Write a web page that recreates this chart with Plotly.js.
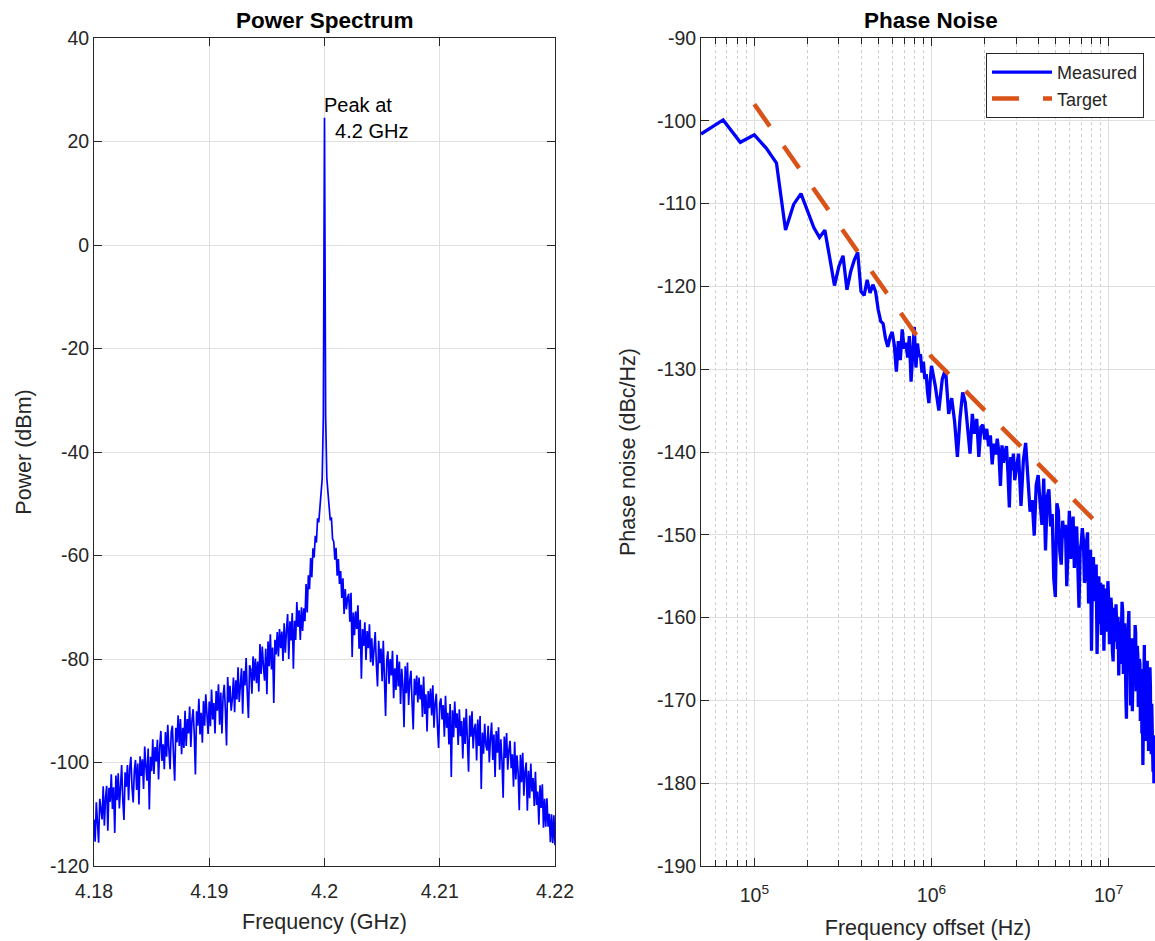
<!DOCTYPE html>
<html>
<head>
<meta charset="utf-8">
<script src="https://cdn.plot.ly/plotly-3.0.1.min.js"></script>
<style>
html,body{margin:0;padding:0;background:#ffffff;overflow:hidden;}
#chart{width:1155px;height:941px;}
</style>
</head>
<body>
<div id="chart"></div>
<script>
// ---------------- Power spectrum (left) ----------------
const specStartGHz = 4.18;
const specStepGHz = 0.0001;
const specPower = [
  // 4.1800 - 4.1819
  -111, -115.3, -107.7, -112, -115.5, -107, -109.5, -111, -104.6, -112.2, -106.8, -104.5, -113.2, -104.9, -107.6, -102.3, -109, -104.8, -113.6, -102.5,
  // 4.1820 - 4.1839
  -107.3, -102.1, -108.9, -103.7, -100.5, -107.3, -111.1, -101.9, -104.7, -100.5, -107.3, -101.1, -98.9, -104.8, -107.7, -101.6, -99.5, -105.3, -100.2, -108.1,
  // 4.1840 - 4.1859
  -98.8, -102.6, -99.4, -105.1, -96.9, -100.7, -103.5, -97.3, -109.1, -98.9, -101.7, -95.5, -102.2, -97, -99.8, -95.6, -103.3, -97.1, -93.9, -99.7,
  // 4.1860 - 4.1879
  -96.5, -101.3, -94.1, -98.9, -92.7, -97.5, -101.3, -94.1, -92.9, -98.7, -103.5, -93.3, -96.1, -90.9, -96.8, -91.6, -98.4, -93.3, -97.2, -90,
  // 4.1880 - 4.1899
  -96.8, -91.6, -94.4, -89.2, -97, -91.9, -89.7, -94.5, -102.3, -90.1, -92.9, -87.7, -94.6, -90.4, -96.2, -88.1, -92.9, -86.8, -91.6, -94.5,
  // 4.1900 - 4.1919
  -88.2, -93, -85.9, -91.7, -88.5, -94.4, -86.2, -90, -84.9, -92.7, -86.5, -94.4, -87.2, -85, -89.9, -96.7, -83.5, -88.4, -85.2, -90,
  // 4.1920 - 4.1939
  -87.8, -83.6, -90.3, -84.1, -87.8, -81.6, -88.3, -84.1, -81.8, -90.6, -82.3, -85.1, -79.8, -86.6, -91.4, -81.2, -82, -86.7, -79.5, -84.2,
  // 4.1940 - 4.1959
  -79.9, -84.7, -80.5, -86.3, -77.1, -82.9, -77.6, -81.4, -84.2, -78, -86.8, -76.6, -81.4, -75.2, -82, -77.8, -88.5, -76.3, -79.1, -74.8,
  // 4.1960 - 4.1979
  -79.5, -74.2, -77.9, -74.7, -80.4, -73.1, -78.8, -74.5, -71.3, -80, -72.7, -76.4, -71.1, -81.9, -72.6, -76.3, -69, -73.8, -70.6, -76.3,
  // 4.1980 - 4.1999
  -70, -74.6, -70.2, -72.7, -65.5, -71, -63.8, -66.5, -60.5, -64.2, -58.6, -60.4, -56.2, -57.5, -52.8, -53.6, -50.4, -47.5, -45.2, -33,
  // 4.2000 (carrier)
  24.6,
  // 4.2001 - 4.2020
  -33, -45, -47.8, -50.9, -53.2, -52.6, -56.8, -57.3, -60.8, -58.5, -63.9, -60.7, -65.5, -63, -68.2, -64.4, -71.3, -66.5, -70.4, -68.2,
  // 4.2021 - 4.2040
  -67.4, -72.8, -67.2, -79.6, -71, -75.4, -70.8, -74.2, -69.6, -78, -72.4, -83.8, -74.2, -77.5, -72.9, -80.2, -74.6, -77.9, -73.3, -80.6,
  // 4.2041 - 4.2060
  -76, -81.3, -77.5, -74.8, -81, -85.3, -76.5, -80.8, -78, -84.3, -76.5, -82.8, -91, -80.3, -78.5, -84.8, -80, -83.2, -78.4, -87.6,
  // 4.2061 - 4.2080
  -81.8, -86, -79.2, -85.3, -80.5, -88.7, -81.9, -85, -93.2, -81.4, -86.6, -80.7, -88.9, -84.1, -82.3, -88.4, -93.6, -83.8, -87, -83.2,
  // 4.2081 - 4.2100
  -88.4, -83.6, -87.8, -85, -91.2, -83.4, -90.6, -86.8, -94, -86.2, -89.5, -85.7, -90.9, -85.1, -93.3, -88.5, -86.7, -92.9, -97.2, -88.5,
  // 4.2101 - 4.2120
  -87.6, -91.7, -88.9, -95, -87.1, -93.3, -90.4, -96.5, -88.7, -102.8, -89.9, -95.1, -88.2, -93.3, -90.5, -96.6, -89.7, -94.9, -92, -99.2,
  // 4.2121 - 4.2140
  -91.3, -96.4, -89.6, -95.7, -101.8, -90.9, -95, -90.1, -97.3, -93.4, -92.5, -99.6, -91.7, -96.8, -91, -105.1, -94.2, -98.3, -92.5, -96.6,
  // 4.2141 - 4.2160
  -97.7, -92.9, -100, -95.2, -92.3, -99.5, -94.6, -102.8, -93.9, -98.1, -93.2, -101.4, -95.5, -99.7, -106.8, -95, -99.1, -94.3, -101.4, -97.6,
  // 4.2161 - 4.2180
  -95.8, -101.1, -98.4, -104.7, -96, -103.3, -98.6, -101.9, -109.2, -98.5, -103.8, -98.1, -106.4, -101.7, -100, -109.3, -101.6, -106.9, -100.2, -105.6,
  // 4.2181 - 4.2200
  -103, -108.4, -101.8, -108.2, -105.6, -112, -104.4, -108.8, -104.2, -112.6, -107, -112.4, -106.9, -112.4, -109.9, -115.4, -110, -115.6, -110.2, -116
];
const specFreq = specPower.map((_, i) => +(specStartGHz + i * specStepGHz).toFixed(4));

const specXTickVals = [4.18, 4.19, 4.2, 4.21, 4.22];
const specXTickText = ['4.18', '4.19', '4.2', '4.21', '4.22'];
const specYTickVals = [40, 20, 0, -20, -40, -60, -80, -100, -120];
const specYTickText = ['40', '20', '0', '-20', '-40', '-60', '-80', '-100', '-120'];
const peakFreqGHz = 4.2;
const peakPower = 24.6;

// ---------------- Phase noise (right) ----------------
// 50 kHz .. 1 MHz, step 50/3 kHz
const pnLowStepHz = 50e3 / 3;
const pnLowValues = [
  -101.6, -99.9, -102.6, -101.7, -103.3, -105.1, -113.2, -110.1, -108.8, -110.8,
  -112.9, -114.1, -113.2, -116.6, -119.9, -117.6, -116.3, -120.4, -118.2, -116.8,
  -115.9, -120.6, -121.1, -119.2, -120.8, -119.8, -120.6, -122.8, -124.2, -124.5,
  -126.3, -127.3, -126.1, -125.5, -127.1, -130.3, -126.6, -128.9, -125.2, -127.5,
  -126.8, -128.6, -126.0, -131.5, -127.4, -124.9, -129.8, -126.9, -128.5, -128.2,
  -130.4, -129.1, -131.2, -130.6, -132.8, -134.1, -131.4, -129.6
];
// 1.05 MHz .. 3 MHz, step 50 kHz
const pnMidStartHz = 1.05e6, pnMidStepHz = 50e3;
const pnMidValues = [
  -132.0, -135.0, -131.2, -130.0, -135.4, -133.5, -136.3, -140.6, -135.8, -132.8,
  -134.0, -137.5, -140.2, -135.4, -137.8, -136.0, -140.6, -137.0, -136.7, -138.5,
  -137.2, -139.3, -138.0, -141.5, -139.0, -140.3, -138.4, -140.0, -144.1, -139.2,
  -141.3, -140.0, -139.3, -142.5, -146.7, -140.6, -142.2, -140.2, -143.4, -142.3
];
// 3.1 MHz .. 18 MHz, step 100 kHz
const pnHighStartHz = 3.1e6, pnHighStepHz = 100e3;
const pnHighValues = [
  -140.2, -146.5, -141.0, -138.9, -143.6, -147.2, -145.8, -150.1, -144.0, -142.8,
  -146.1, -148.8, -143.2, -151.9, -145.4, -144.5, -149.0, -147.5, -155.3, -157.5,
  -146.2, -147.1, -152.0, -153.6, -148.3, -150.4, -148.8, -156.2, -151.5, -147.1,
  -152.9, -150.5, -147.8, -154.0, -149.6, -149.0, -155.7, -158.8, -151.9, -151.0,
  -149.2, -150.6, -155.8, -155.2, -150.9, -149.7, -158.3, -157.0, -151.8, -164.0,
  -154.4, -152.7, -156.9, -158.0, -153.6, -164.4, -157.2, -155.0, -160.8, -155.8,
  -162.1, -160.5, -156.0, -164.0, -158.2, -156.5, -161.7, -160.0, -155.6, -157.9,
  -163.2, -162.5, -157.6, -159.0, -164.1, -165.3, -158.8, -160.2, -162.9, -158.4,
  -161.5, -163.8, -159.9, -167.0, -162.2, -160.5, -165.6, -163.0, -158.1, -159.2,
  -166.8, -165.5, -160.7, -162.3, -169.4, -172.2, -164.0, -163.6, -160.8, -159.2,
  -166.2, -165.0, -170.6, -168.0, -162.5, -171.3, -166.9, -163.5, -168.1, -166.4,
  -160.9, -161.8, -168.9, -167.7, -163.4, -164.5, -170.8, -169.6, -165.0, -165.5,
  -172.5, -170.3, -166.2, -174.0, -169.1, -177.8, -171.4, -168.5, -163.3, -173.2,
  -167.4, -166.1, -174.9, -171.5, -165.2, -168.8, -172.9, -176.1, -169.3, -172.0,
  -166.0, -168.3, -175.2, -176.5, -170.4, -172.8, -178.1, -178.6, -174.2, -180.0
];
const pnFreq = [].concat(
  pnLowValues.map((_, i) => (i + 3) * pnLowStepHz),
  pnMidValues.map((_, i) => pnMidStartHz + i * pnMidStepHz),
  pnHighValues.map((_, i) => pnHighStartHz + i * pnHighStepHz)
);
const pnValues = [].concat(pnLowValues, pnMidValues, pnHighValues);

const targetFreq = [1e5, 1e6, 1e7];
const targetValues = [-98, -128.5, -150];

const pnXTickVals = [1e5, 1e6, 1e7];
const pnXTickText = ['10<sup>5</sup>', '10<sup>6</sup>', '10<sup>7</sup>'];
const pnYTickVals = [-90, -100, -110, -120, -130, -140, -150, -160, -170, -180, -190];
const pnYTickText = ['-90', '-100', '-110', '-120', '-130', '-140', '-150', '-160', '-170', '-180', '-190'];

const pnMinorTicks = [];
for (let d = 4; d <= 7; d++) {
  for (let m = 2; m <= 9; m++) pnMinorTicks.push(m * Math.pow(10, d));
}

// ---------------- styling ----------------
const W = 1155, H = 941;
const ink = '#262626';
const gridCol = '#dfdfdf';
const fam = '"Liberation Sans", Arial, Helvetica, sans-serif';
const tickFont = {family: fam, size: 19.5, color: ink};
const labFont = {family: fam, size: 21.5, color: ink};
const yDom = [(H - 866) / H, (H - 38) / H];

function baseAxis(extra) {
  return Object.assign({
    ticks: 'inside', ticklen: 8, tickwidth: 1, tickcolor: ink,
    showline: true, linecolor: ink, linewidth: 1, mirror: 'ticks',
    showgrid: true, gridcolor: gridCol, gridwidth: 1, zeroline: false,
    tickfont: tickFont, tickmode: 'array', automargin: false, fixedrange: true
  }, extra);
}

const traces = [
  {
    type: 'scatter', mode: 'lines', x: specFreq, y: specPower,
    xaxis: 'x', yaxis: 'y', showlegend: false, hoverinfo: 'skip',
    line: {color: '#0000ff', width: 1.7}
  },
  {
    type: 'scatter', mode: 'lines', x: pnFreq, y: pnValues,
    xaxis: 'x2', yaxis: 'y2', name: 'Measured',
    line: {color: '#0000ff', width: 3.3}
  },
  {
    type: 'scatter', mode: 'lines', x: targetFreq, y: targetValues,
    xaxis: 'x2', yaxis: 'y2', name: 'Target',
    line: {color: '#D95319', width: 4.5, dash: '27px,24px'}
  }
];

const layout = {
  width: W, height: H,
  margin: {l: 0, r: 0, t: 0, b: 0, pad: 0},
  paper_bgcolor: '#ffffff', plot_bgcolor: '#ffffff',
  font: {family: fam, size: 19.5, color: ink},
  showlegend: true,
  hovermode: false,
  xaxis: baseAxis({
    domain: [94 / W, 555 / W], range: [4.18, 4.22], anchor: 'y',
    tickvals: specXTickVals, ticktext: specXTickText, ticklabelstandoff: 8,
    title: {text: 'Frequency (GHz)', font: labFont, standoff: 12}
  }),
  yaxis: baseAxis({
    domain: yDom, range: [-120, 40], anchor: 'x',
    tickvals: specYTickVals, ticktext: specYTickText,
    title: {text: 'Power (dBm)', font: labFont, standoff: 12}
  }),
  xaxis2: baseAxis({
    type: 'log', domain: [701 / W, 1], range: [Math.log10(5e4), 7.2615], anchor: 'y2',
    tickvals: pnXTickVals, ticktext: pnXTickText, ticklabelstandoff: 12,
    minor: {tickmode: 'array', tickvals: pnMinorTicks, ticks: 'inside', ticklen: 6,
            tickcolor: ink, showgrid: true, gridcolor: '#cdcdcd', griddash: 'dot', gridwidth: 1},
    title: {text: 'Frequency offset (Hz)', font: labFont, standoff: 14}
  }),
  yaxis2: baseAxis({
    domain: yDom, range: [-190, -90], anchor: 'x2', mirror: false,
    tickvals: pnYTickVals, ticktext: pnYTickText,
    title: {text: 'Phase noise (dBc/Hz)', font: labFont, standoff: 15}
  }),
  legend: {
    x: 1144 / W, xanchor: 'right', y: (H - 53) / H, yanchor: 'top',
    bgcolor: '#ffffff', bordercolor: ink, borderwidth: 1, itemwidth: 60,
    font: {family: fam, size: 18, color: ink}
  },
  annotations: [
    {xref: 'paper', yref: 'paper', x: 324.5 / W, y: (H - 20) / H, xanchor: 'center', yanchor: 'middle',
     text: '<b>Power Spectrum</b>', showarrow: false, font: {family: fam, size: 22.5, color: '#000000'}},
    {xref: 'paper', yref: 'paper', x: 931 / W, y: (H - 20) / H, xanchor: 'center', yanchor: 'middle',
     text: '<b>Phase Noise</b>', showarrow: false, font: {family: fam, size: 22.5, color: '#000000'}},
    {xref: 'x', yref: 'y', x: peakFreqGHz, y: peakPower, xanchor: 'left', yanchor: 'middle', align: 'left',
     xshift: -3, text: 'Peak at<br>\u00a0\u00a04.2 GHz', showarrow: false, font: {family: fam, size: 20, color: '#000000'}}
  ]
};

Plotly.newPlot('chart', traces, layout, {staticPlot: true, displayModeBar: false});
</script>
</body>
</html>
